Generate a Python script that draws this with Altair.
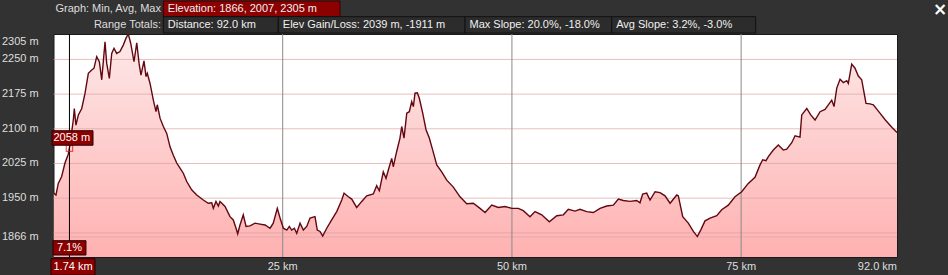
import altair as alt
import pandas as pd

# ---------------- data ----------------
km = [0.00, 0.27, 0.52, 0.89, 1.25, 1.61, 1.80, 2.16, 2.27, 2.45, 2.71, 3.08, 3.44, 3.80, 4.17, 4.42,
      4.71, 5.00, 5.26, 5.62, 5.80, 6.09, 6.35, 6.60, 6.89, 7.25, 7.61, 7.91, 8.16, 8.42, 8.78, 9.08,
      9.33, 9.54, 9.87, 10.09, 10.23, 10.53, 10.89, 11.18, 11.32, 11.62, 11.98, 12.35, 12.71, 13.07,
      13.44, 13.80, 14.16, 14.53, 15.07, 15.62, 16.34, 16.88, 17.26, 17.43, 17.72, 17.98, 18.16, 18.71,
      19.25, 19.61, 19.91, 20.09, 20.34, 20.70, 21.00, 21.43, 21.98, 22.52, 23.07, 23.62, 23.97, 24.41,
      24.71, 25.07, 25.44, 25.72, 25.98, 26.27, 26.53, 26.89, 27.25, 27.62, 27.98, 28.52, 28.77, 29.07,
      29.36, 29.80, 30.34, 30.89, 31.44, 31.69, 32.16, 32.53, 33.07, 33.62, 34.16, 34.88, 35.25, 35.54,
      35.97, 36.27, 36.52, 36.89, 37.06, 37.43, 37.79, 37.98, 38.23, 38.53, 38.81, 39.07, 39.25, 39.43,
      39.68, 39.90, 40.27, 40.63, 40.99, 41.36, 41.80, 42.34, 42.89, 43.61, 44.34, 45.07, 45.79, 46.52,
      47.07, 47.80, 48.52, 49.25, 49.98, 50.70, 51.24, 51.97, 52.52, 53.25, 54.08, 54.89, 55.61, 56.15,
      56.88, 57.43, 58.16, 58.88, 59.61, 60.34, 61.06, 61.61, 62.15, 62.88, 63.61, 63.97, 64.26, 64.70,
      65.06, 65.61, 66.15, 66.70, 67.25, 67.98, 68.15, 68.63, 69.24, 69.79, 70.22, 70.59, 71.06, 71.61,
      72.34, 72.88, 73.60, 74.33, 75.06, 75.78, 76.51, 77.06, 77.35, 77.71, 77.97, 78.51, 79.06, 79.60,
      79.97, 80.52, 80.88, 81.42, 81.61, 82.16, 82.59, 83.06, 83.61, 84.15, 84.88, 85.13, 85.43, 85.79,
      86.15, 86.52, 86.69, 87.06, 87.42, 87.78, 88.15, 88.62, 89.06, 89.42, 90.01, 90.73, 91.46, 92.00]

elev = [1961, 1957, 1982, 1997, 2026, 2045, 2066, 2119, 2144, 2108, 2130, 2144, 2177, 2220, 2227, 2231,
        2256, 2245, 2206, 2288, 2242, 2209, 2263, 2274, 2263, 2267, 2281, 2296, 2305, 2285, 2245, 2286,
        2242, 2216, 2247, 2213, 2220, 2198, 2162, 2137, 2152, 2123, 2105, 2090, 2061, 2043,
        2026, 2015, 2004, 1986, 1968, 1957, 1946, 1939, 1940, 1928, 1943, 1933, 1943, 1932,
        1910, 1903, 1885, 1873, 1892, 1914, 1889, 1890, 1896, 1894, 1892, 1885, 1896, 1928,
        1907, 1885, 1881, 1889, 1881, 1885, 1874, 1896, 1881, 1889, 1907, 1910, 1881, 1878,
        1868, 1885, 1903, 1921, 1946, 1961, 1953, 1948, 1930, 1943, 1955, 1959, 1977, 1966,
        2007, 1993, 2011, 2036, 2018, 2051, 2080, 2105, 2080, 2134, 2137, 2159, 2148, 2177,
        2178, 2166, 2134, 2098, 2080, 2054, 2022, 2007, 1989, 1974, 1953, 1938, 1939, 1928,
        1919, 1935, 1930, 1932, 1928, 1928, 1923, 1910, 1921, 1914, 1899, 1912, 1914, 1926,
        1922, 1926, 1921, 1919, 1928, 1933, 1935, 1948, 1945, 1943, 1945, 1940, 1959, 1961,
        1946, 1964, 1962, 1955, 1939, 1957, 1955, 1910, 1896, 1878, 1867, 1881, 1901, 1907,
        1912, 1925, 1935, 1953, 1964, 1982, 1995, 2022, 2033, 2031, 2040, 2054, 2065, 2054,
        2056, 2070, 2085, 2082, 2130, 2144, 2130, 2119, 2137, 2142, 2162, 2148, 2188, 2207,
        2200, 2204, 2198, 2240, 2231, 2214, 2206, 2155, 2154, 2152, 2137, 2119, 2103, 2092]

y_label_values = [2250, 2175, 2100, 2025, 1950, 1866]
y_top_value = [2305]
y_grid_values = [2250, 2175, 2100, 2025, 1950, 1875, 1866]
x_grid_values = [25, 50, 75]
x_label_values = [25, 50, 75]
x_end_value = [92]
x_end_label = ["92.0 km"]

cursor_km = [1.74]
cursor_elev = [2058]
cursor_slope = ["7.1%"]

header_titles = ["Graph: Min, Avg, Max", "Range Totals:"]
header_boxes = ["Elevation: 1866, 2007, 2305 m", "Distance: 92.0 km",
                "Elev Gain/Loss: 2039 m, -1911 m", "Max Slope: 20.0%, -18.0%",
                "Avg Slope: 3.2%, -3.0%"]
close_symbol = ["\u00d7"]

# ---------------- layout / style ----------------
W, H = 843.5, 223
PAD_L, PAD_T = 53.5, 34
FONT = "Liberation Sans"
BG = "#323232"
TXT = "#dedede"
DARKRED = "#8c0000"
Y_MIN = 1822.8

x_scale = alt.Scale(domain=[0, 92], nice=False, zero=False)
y_scale = alt.Scale(domain=[Y_MIN, 2305], nice=False, zero=False)

df = pd.DataFrame({"km": km, "elev": elev, "base": [Y_MIN] * len(km)})

grad = alt.Gradient(gradient="linear",
                    stops=[alt.GradientStop(color="#fde9e9", offset=0),
                           alt.GradientStop(color="#ffb1b1", offset=1)],
                    x1=1, x2=1, y1=0, y2=1)

area = alt.Chart(df).mark_area(color=grad, clip=True).encode(
    x=alt.X("km:Q", scale=x_scale, axis=None),
    y=alt.Y("elev:Q", scale=y_scale, axis=None),
    y2="base:Q",
)

ygrid = alt.Chart(pd.DataFrame({"v": y_grid_values})).mark_rule(
    color="#dca2a2", strokeWidth=1, opacity=0.7).encode(
    y=alt.Y("v:Q", scale=y_scale, axis=None))

xgrid = alt.Chart(pd.DataFrame({"v": x_grid_values})).mark_rule(
    color="#8a8a8a", strokeWidth=1).encode(
    x=alt.X("v:Q", scale=x_scale, axis=None))

line = alt.Chart(df).mark_line(color="#620810", strokeWidth=1.4, clip=True).encode(
    x=alt.X("km:Q", scale=x_scale, axis=None),
    y=alt.Y("elev:Q", scale=y_scale, axis=None),
)

# axis labels as text
ylab = alt.Chart(pd.DataFrame({"v": y_label_values,
                               "t": [f"{v} m" for v in y_label_values]})).mark_text(
    align="right", baseline="middle", font=FONT, fontSize=11, color=TXT, dx=0).encode(
    x=alt.value(-14.8),
    y=alt.Y("v:Q", scale=y_scale, axis=None), text="t:N")

ytop = alt.Chart(pd.DataFrame({"v": y_top_value,
                               "t": [f"{v} m" for v in y_top_value]})).mark_text(
    align="right", baseline="top", font=FONT, fontSize=11, color=TXT, dy=2).encode(
    x=alt.value(-14.8),
    y=alt.Y("v:Q", scale=y_scale, axis=None), text="t:N")

xlab = alt.Chart(pd.DataFrame({"v": x_label_values,
                               "t": [f"{v} km" for v in x_label_values]})).mark_text(
    align="center", baseline="middle", font=FONT, fontSize=11, color=TXT).encode(
    x=alt.X("v:Q", scale=x_scale, axis=None),
    y=alt.value(232.8), text="t:N")

xend = alt.Chart(pd.DataFrame({"v": x_end_value, "t": x_end_label})).mark_text(
    align="right", baseline="middle", font=FONT, fontSize=11, color=TXT).encode(
    x=alt.X("v:Q", scale=x_scale, axis=None),
    y=alt.value(232.8), text="t:N")

# cursor
cdf = pd.DataFrame({"km": cursor_km, "elev": cursor_elev, "slope": cursor_slope,
                    "start": [0.0],
                    "elev_lbl": [f"{e} m" for e in cursor_elev],
                    "km_lbl": [f"{k:.2f} km" for k in cursor_km]})

cur_rule = alt.Chart(cdf).mark_rule(color="#000000", strokeWidth=1).encode(
    x=alt.X("km:Q", scale=x_scale, axis=None))

cur_pt = alt.Chart(cdf).mark_point(shape="square", filled=False, color="#e01818",
                                   size=40, strokeWidth=1.2).encode(
    x=alt.X("km:Q", scale=x_scale, axis=None),
    y=alt.Y("elev:Q", scale=y_scale, axis=None))

elev_box = alt.Chart(cdf).mark_rect(fill=DARKRED, stroke="#2a0000", strokeWidth=1,
                                    xOffset=-1.5, x2Offset=39.5,
                                    yOffset=-3, y2Offset=-17.5).encode(
    x=alt.X("start:Q", scale=x_scale, axis=None), x2="start:Q",
    y=alt.Y("elev:Q", scale=y_scale, axis=None), y2="elev:Q")

elev_txt = alt.Chart(cdf).mark_text(align="left", baseline="middle", dx=0, dy=-10,
                                    color="white", font=FONT, fontSize=11).encode(
    x=alt.X("start:Q", scale=x_scale, axis=None),
    y=alt.Y("elev:Q", scale=y_scale, axis=None),
    text="elev_lbl:N")

slope_box = alt.Chart(cdf).mark_rect(fill=DARKRED, stroke="#2a0000", strokeWidth=1,
                                     xOffset=-16.5, x2Offset=16.5).encode(
    x=alt.X("km:Q", scale=x_scale, axis=None), x2="km:Q",
    y=alt.value(206.7), y2=alt.value(221))

slope_txt = alt.Chart(cdf).mark_text(align="center", baseline="middle",
                                     color="white", font=FONT, fontSize=11).encode(
    x=alt.X("km:Q", scale=x_scale, axis=None),
    y=alt.value(214), text="slope:N")

km_box = alt.Chart(cdf).mark_rect(fill=DARKRED, stroke="#2a0000", strokeWidth=1,
                                  xOffset=-2.5, x2Offset=41.5).encode(
    x=alt.X("start:Q", scale=x_scale, axis=None), x2="start:Q",
    y=alt.value(224.7), y2=alt.value(241))

km_txt = alt.Chart(cdf).mark_text(align="left", baseline="middle", dx=0,
                                  color="white", font=FONT, fontSize=11).encode(
    x=alt.X("start:Q", scale=x_scale, axis=None),
    y=alt.value(232.8), text="km_lbl:N")

# ---------------- header (pixel layout relative to plot origin) ----------------
box_x0 = [109.8, 109.8, 224.8, 411.5, 558.2]
box_x1 = [286.5, 224.8, 411.5, 558.2, 702.2]
box_y0 = [-33.0, -17.3, -17.3, -17.3, -17.3]
box_y1 = [-17.3, -1.0, -1.0, -1.0, -1.0]
box_fill = [DARKRED, "#2c2c2c", "#2c2c2c", "#2c2c2c", "#2c2c2c"]
box_stroke = ["#3a0000", "#101010", "#101010", "#101010", "#101010"]
hb = pd.DataFrame({"t": header_boxes, "x0": box_x0, "x1": box_x1, "y0": box_y0, "y1": box_y1,
                   "fill": box_fill, "stroke": box_stroke,
                   "tx": [x + 4.5 for x in box_x0],
                   "ty": [(a + b) / 2 for a, b in zip(box_y0, box_y1)]})

hbox = alt.Chart(hb).mark_rect(strokeWidth=1).encode(
    x=alt.X("x0:Q", scale=None, axis=None), x2="x1:Q",
    y=alt.Y("y0:Q", scale=None, axis=None), y2="y1:Q",
    fill=alt.Fill("fill:N", scale=None, legend=None),
    stroke=alt.Stroke("stroke:N", scale=None, legend=None))

htxt = alt.Chart(hb).mark_text(align="left", baseline="middle", font=FONT, fontSize=11,
                               color="#f0f0f0").encode(
    x=alt.X("tx:Q", scale=None, axis=None),
    y=alt.Y("ty:Q", scale=None, axis=None),
    text="t:N")

ht = pd.DataFrame({"t": header_titles, "tx": [107.5, 107.5], "ty": [-25.2, -9.0]})
htitle = alt.Chart(ht).mark_text(align="right", baseline="middle", font=FONT, fontSize=11,
                                 color=TXT).encode(
    x=alt.X("tx:Q", scale=None, axis=None),
    y=alt.Y("ty:Q", scale=None, axis=None),
    text="t:N")

hclose = alt.Chart(pd.DataFrame({"t": close_symbol, "tx": [886.5], "ty": [-24.5]})).mark_text(
    align="center", baseline="middle", font="DejaVu Sans", fontSize=17, fontWeight="bold",
    color="white").encode(
    x=alt.X("tx:Q", scale=None, axis=None),
    y=alt.Y("ty:Q", scale=None, axis=None),
    text="t:N")

chart = alt.layer(
    area, ygrid, xgrid, line, ylab, ytop, xlab, xend,
    cur_rule, cur_pt, elev_box, elev_txt, slope_box, slope_txt, km_box, km_txt,
    hbox, htxt, htitle, hclose,
).properties(
    width=W, height=H,
    background=BG,
    padding={"left": PAD_L, "top": PAD_T, "right": 948 - PAD_L - W, "bottom": 275 - PAD_T - H},
    autosize=alt.AutoSizeParams(type="none"),
).configure_view(fill="white", stroke="#1a1a1a", strokeWidth=1)

chart.save("out.html", embed_options={"renderer": "svg", "actions": False})
